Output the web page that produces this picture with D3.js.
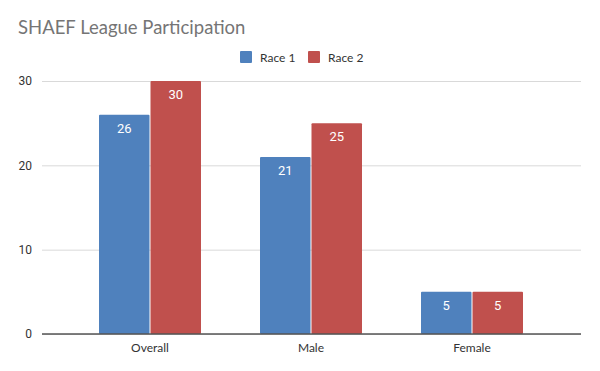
<!DOCTYPE html>
<html>
<head>
<meta charset="utf-8">
<script src="https://cdn.jsdelivr.net/npm/d3@7"></script>
<style>
  body { margin: 0; background: #fff; }
  text { font-family: Lato, "Open Sans", sans-serif; }
</style>
</head>
<body>
<div id="wrapper"></div>
<script>
const w = 600
const h = 371

const categories = ['Overall', 'Male', 'Female']
const seriesNames = ['Race 1', 'Race 2']
const race1 = [26, 21, 5]
const race2 = [30, 25, 5]
const yTicks = [0, 10, 20, 30]
const colors = ['#4f81bd', '#c0504d']

const plotLeft = 42
const plotRight = 581

const svg = d3.select('#wrapper').append('svg')
  .attr('width', w)
  .attr('height', h)

// title
svg.append('text')
  .attr('x', 18)
  .attr('y', 34)
  .style('font-size', '18.5px')
  .style('fill', '#757575')
  .text('SHAEF League Participation')

const y = d3.scaleLinear().domain([0, 30]).range([334, 81])

const x = d3.scalePoint()
  .domain(categories)
  .range([69.5, 552.5])
  .padding(0.5)

const barW = 50.5

// gridlines + y labels
const yAxis = svg.append('g')
  .attr('transform', `translate(${plotLeft},0)`)
  .call(d3.axisLeft(y).tickValues(yTicks).tickSize(-(plotRight - plotLeft)).tickPadding(10))
yAxis.select('.domain').remove()
yAxis.selectAll('.tick line').attr('stroke', '#d9d9d9')
yAxis.selectAll('.tick text')
  .style('font-size', '12px')
  .style('fill', '#333')
  .style('font-family', 'Roboto, sans-serif')

const rows = categories.map((c, i) => ({ cat: c, vals: [race1[i], race2[i]] }))

const groups = svg.selectAll('.grp')
  .data(rows)
  .enter().append('g')
  .attr('class', 'grp')

groups.selectAll('rect')
  .data(d => d.vals.map((v, j) => ({ cat: d.cat, v, j })))
  .enter().append('rect')
  .attr('x', d => x(d.cat) - barW - 0.5 + d.j * (barW + 1))
  .attr('y', d => y(d.v))
  .attr('width', barW)
  .attr('height', d => y(0) - y(d.v))
  .attr('rx', 1)
  .attr('fill', d => colors[d.j])

groups.selectAll('.lbl')
  .data(d => d.vals.map((v, j) => ({ cat: d.cat, v, j })))
  .enter().append('text')
  .attr('class', 'lbl')
  .attr('x', d => x(d.cat) - barW / 2 - 0.5 + d.j * (barW + 1))
  .attr('y', d => y(d.v) + 18)
  .attr('text-anchor', 'middle')
  .style('font-size', '13px')
  .style('fill', '#fff')
  .style('font-family', 'Roboto, sans-serif')
  .text(d => d.v)

// baseline
svg.append('line')
  .attr('x1', plotLeft).attr('x2', plotRight)
  .attr('y1', y(0)).attr('y2', y(0))
  .attr('stroke', '#555')
  .attr('stroke-width', 1.3)

// category labels
svg.selectAll('.cat')
  .data(categories)
  .enter().append('text')
  .attr('class', 'cat')
  .attr('x', d => x(d))
  .attr('y', 352)
  .attr('text-anchor', 'middle')
  .style('font-size', '12px')
  .style('fill', '#333')
  .text(d => d)

// legend
const legendX = [240, 308]
const legend = svg.selectAll('.leg')
  .data(seriesNames)
  .enter().append('g')
  .attr('class', 'leg')
  .attr('transform', (d, i) => `translate(${legendX[i]},51)`)
legend.append('rect')
  .attr('width', 12).attr('height', 12).attr('rx', 1)
  .attr('fill', (d, i) => colors[i])
legend.append('text')
  .attr('x', 20).attr('y', 10.5)
  .style('font-size', '12px')
  .style('fill', '#333')
  .text(d => d)
</script>
</body>
</html>
